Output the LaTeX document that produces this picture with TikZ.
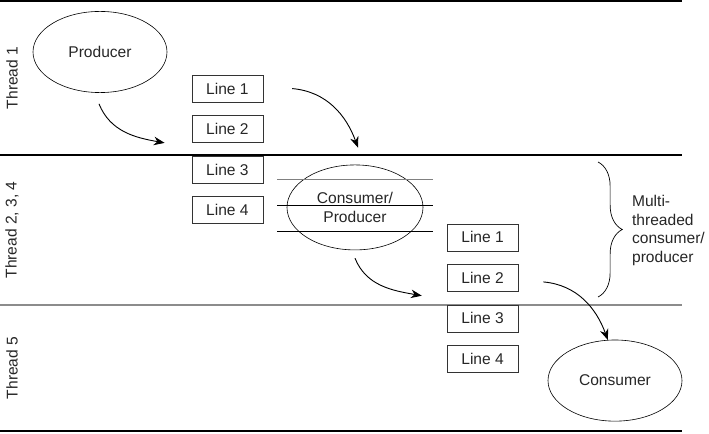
\documentclass[tikz,border=0pt]{standalone}
\usepackage{fontspec}
\setmainfont{Liberation Sans}
\usetikzlibrary{arrows.meta,calc,shapes.geometric,decorations.pathreplacing}
\newcommand{\diafont}{\fontsize{15.5}{18.5}\selectfont}
\tikzset{
  role/.style    = {draw=black, line width=0.6pt, ellipse, inner sep=0pt,
                    align=center, minimum width=4.69cm, minimum height=2.84cm,
                    font=\diafont, text=black!85},
  linebox/.style = {draw=black!80, line width=0.6pt, rectangle, inner sep=0pt,
                    minimum width=2.485cm, minimum height=0.945cm, font=\diafont,
                    text=black!85},
  lane/.style    = {font=\diafont, rotate=90, text=black!85},
  sep/.style     = {line width=1.2pt},
  cut/.style     = {line width=0.7pt},
  ar/.style      = {-{Stealth[length=3.8mm,width=3mm]}, line width=0.9pt},
}

\begin{document}
\begin{tikzpicture}
\useasboundingbox (0,0) rectangle (24.815,-15.19);

%% ---- thread lanes ----------------------------------------------------
\draw[sep] (0,-0.035) -- (23.87,-0.035);
\draw[sep] (0,-5.425) -- (23.87,-5.425);
\draw[sep, draw=black!45] (0,-10.675) -- (23.87,-10.675);
\draw[sep] (0,-15.085) -- (23.87,-15.085);

\node[lane] (t1) at (0.42,-2.73)  {Thread 1};
\node[lane] (t2) at (0.42,-8.05)  {Thread 2, 3, 4};
\node[lane] (t5) at (0.42,-12.88) {Thread 5};

%% ---- producer and consumers ------------------------------------------
\node[role] (prod) at (3.5,-1.82) {Producer};
\node[role, minimum width=4.76cm, minimum height=2.975cm] (cp) at (12.425,-7.26)
  {Consumer/\\Producer};
\node[role] (cons) at (21.525,-13.32) {Consumer};

%% lines running through the middle stage
\draw[cut, draw=black!50] (9.695,-6.265) -- (15.155,-6.265);
\draw[cut] (9.695,-7.175) -- (15.155,-7.175);
\draw[cut] (9.695,-8.085) -- (15.155,-8.085);

%% ---- line buffers ----------------------------------------------------
\foreach \i in {1,...,4}{
  \node[linebox] (l\i) at (7.96,{-3.1-1.4175*(\i-1)})  {Line \i};
  \node[linebox] (m\i) at (16.89,{-8.31-1.4175*(\i-1)}) {Line \i};
}

%% ---- brace and note --------------------------------------------------
\draw[decorate, decoration={brace, amplitude=0.85cm}, line width=0.7pt]
  (20.93,-5.67) -- (20.93,-10.395);
\node[font=\diafont, text=black!85, align=left, anchor=west] (mt) at (22.0,-8.07)
  {Multi-\\threaded\\consumer/\\producer};

%% ---- arrows ----------------------------------------------------------
\draw[ar] ($(prod.south)+(-0.035,-0.385)$) to[out=-68,in=170]
  ($(l2.south west)+(-0.945,0)$);
\draw[ar] ($(l1.east)+(1.015,0)$) to[out=-5,in=110]
  ($(cp.north)+(0.105,0.595)$);
\draw[ar] ($(cp.south)+(0,-0.28)$) to[out=-68,in=170]
  ($(m2.south west)+(-0.875,-0.14)$);
\draw[ar] ($(m2.east)+(0.875,-0.14)$) to[out=-5,in=110] (cons.100);
\end{tikzpicture}
\end{document}
